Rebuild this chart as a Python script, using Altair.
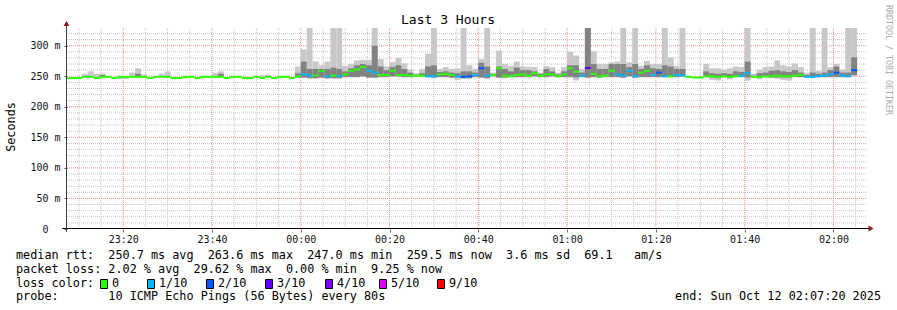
import altair as alt
import pandas as pd

# ---------------- data ----------------
TITLE = "Last 3 Hours"
Y_TITLE = "Seconds"
WATERMARK = "RRDTOOL / TOBI OETIKER"

# x is minutes after 23:00 on Oct 11; one sample every 80 s (4/3 min)
START_MIN = 20 / 3          # 23:06:40, first (clipped) sample start
STEP_MIN = 4 / 3
X_DOMAIN = [22 / 3, 562 / 3]   # 23:07:20 .. 02:07:20
X_TICKS = [20, 40, 60, 80, 100, 120, 140, 160, 180]
X_TICK_LABELS = ["23:20", "23:40", "00:00", "00:20", "00:40", "01:00", "01:20", "01:40", "02:00"]
X_MINOR = [10, 15, 25, 30, 35, 45, 50, 55, 65, 70, 75, 85, 90, 95, 105, 110, 115,
           125, 130, 135, 145, 150, 155, 165, 170, 175, 185]
Y_DOMAIN = [0, 329]
Y_TICKS = [0, 50, 100, 150, 200, 250, 300]
Y_TICK_LABELS = ["0", "50 m", "100 m", "150 m", "200 m", "250 m", "300 m"]
Y_MINOR = [10, 20, 30, 40, 60, 70, 80, 90, 110, 120, 130, 140, 160, 170, 180, 190,
           210, 220, 230, 240, 260, 270, 280, 290, 310, 320]

# median rtt (ms)
MED = [247, 247, 247, 249, 249, 247, 249, 249, 247, 249,
       249, 249, 249, 249, 247, 249, 249, 249, 247, 247,
       249, 249, 247, 249, 249, 249, 249, 247, 249, 249,
       247, 247, 249, 247, 249, 247, 249, 249, 247, 250,
       253, 251, 251.5, 258.5, 250, 251, 250, 253, 259, 261,
       265, 259, 256, 252, 252, 259, 252, 252, 251, 251,
       251, 250, 250, 253, 254, 252, 250, 249, 250, 252,
       263, 251, 252, 263, 251, 250, 252, 253, 251, 255,
       251, 253, 253, 250, 253, 263, 257.5, 251, 263.5, 254,
       250, 251, 259, 253, 251, 259, 250, 256, 259, 252,
       256, 250, 250, 252, 251, 249, 248, 248, 250, 250,
       249, 250, 249, 250, 251, 255, 249, 249, 250, 250,
       251, 250, 250, 251, 252, 249, 249, 250, 251, 253,
       256, 251, 250, 260]
# smoke: lowest / highest ping (ms), top of the scale where it runs off
LO = [247, 247, 247, 249, 249, 247, 249, 249, 247, 245.5,
      245.5, 249, 249, 249, 247, 249, 249, 249, 247, 247,
      249, 249, 247, 249, 249, 249, 249, 247, 249, 249,
      247, 247, 249, 247, 249, 247, 249, 249, 247, 247,
      247, 246, 246, 247, 246, 246, 246, 248, 248, 248,
      249, 247, 247, 248, 248, 249, 249, 248, 248, 249,
      249, 248, 247, 248, 248, 247, 244, 246, 246, 248,
      247, 246, 249, 247, 247, 248, 248, 248, 248, 249,
      248, 248, 249, 248, 248, 248, 243, 248, 247, 248,
      247, 248, 248, 248, 247, 249, 247, 248, 248, 248,
      248, 248, 248, 248, 249, 249, 248, 248, 248, 244,
      243, 248, 245, 248, 248, 243, 248, 245, 248, 247,
      246, 244, 243, 248, 248, 248, 248, 248, 248, 248,
      248, 248, 248, 250]
HI = [247, 247, 247, 254, 258, 254, 254.5, 249, 247, 249,
      249, 256, 263, 253, 247, 249, 254.5, 258, 247, 247,
      249, 249, 247, 249, 249, 256, 258, 247, 249, 249,
      247, 247, 249, 252, 252, 247, 249, 249, 247, 266,
      294, 330, 274.5, 268, 274, 330, 330, 267, 270, 276,
      277, 277, 330, 278, 266, 273, 280, 271, 261, 255,
      262, 287, 330, 262, 265, 262, 263, 330, 268, 262,
      278, 330, 256, 292, 270, 267, 274, 266, 265, 265,
      256, 267, 265, 256, 265, 290, 284, 262, 330, 291,
      270, 270, 273, 274, 330, 273, 330, 267, 275, 270,
      270, 330, 281, 267, 330, 249, 248, 250, 270, 263,
      263, 261, 263, 266, 265, 330, 254, 261, 265, 266,
      276, 268, 266, 271, 265, 256, 330, 259, 330, 265,
      270, 261, 330, 330]
# darker inner smoke band
MLO = [247, 247, 247, 249, 249, 247, 249, 249, 247, 249,
       249, 249, 249, 249, 247, 249, 249, 249, 247, 247,
       249, 249, 247, 249, 249, 249, 249, 247, 249, 249,
       247, 247, 249, 247, 249, 247, 249, 249, 247, 248,
       248, 247, 247, 248, 247, 247, 247, 249, 249, 249,
       250, 248, 248, 249, 249, 250, 250, 249, 249, 250,
       250, 249, 248, 249, 249, 248, 248, 247, 247, 249,
       248, 247, 250, 248, 248, 249, 249, 249, 249, 250,
       249, 249, 250, 249, 249, 249, 248, 249, 248, 249,
       248, 249, 249, 249, 248, 250, 248, 249, 249, 249,
       249, 249, 249, 249, 250, 249, 248, 248, 249, 248,
       247, 249, 248, 249, 249, 248, 249, 248, 249, 248,
       248, 248, 248, 249, 249, 249, 249, 249, 249, 249,
       249, 249, 249, 252]
MHI = [247, 247, 247, 249, 249, 247, 252, 249, 247, 249,
       249, 249, 254, 249, 247, 249, 249, 249, 247, 247,
       249, 249, 247, 249, 249, 249, 254, 247, 249, 249,
       247, 247, 249, 247, 249, 247, 249, 249, 247, 255,
       274, 262, 262, 262, 262, 264, 262, 258, 263, 268,
       270, 268, 300, 266, 260, 265, 268, 262, 256, 252,
       255, 266, 268, 257, 258, 256, 255, 258, 258, 256,
       272, 266, 254, 266, 262, 258, 264, 260, 260, 258,
       254, 262, 258, 253, 258, 268, 268, 256, 330, 270,
       262, 262, 270, 270, 270, 265, 270, 262, 268, 263,
       262, 268, 266, 262, 262, 249, 248, 249, 258, 255,
       254, 255, 254, 258, 257, 274, 251, 255, 256, 259,
       260, 258, 257, 260, 256, 252, 256, 254, 256, 260,
       266, 256, 256, 281]
# lost pings out of 10 per sample
LOSS = [0, 0, 0, 0, 0, 0, 0, 0, 0, 0,
        0, 0, 0, 0, 0, 0, 0, 0, 0, 0,
        0, 0, 0, 0, 0, 0, 0, 0, 0, 0,
        0, 0, 0, 0, 0, 0, 0, 0, 0, 0,
        1, 1, 0, 0, 1, 0, 1, 0, 0, 0,
        0, 1, 1, 0, 0, 0, 0, 0, 0, 0,
        0, 1, 1, 0, 0, 0, 1, 2, 2, 1,
        2, 1, 0, 0, 0, 0, 0, 0, 0, 0,
        0, 0, 0, 0, 0, 0, 0, 1, 3, 0,
        0, 0, 0, 1, 1, 1, 1, 0, 0, 1,
        2, 1, 0, 1, 1, 0, 0, 0, 0, 0,
        0, 0, 0, 0, 1, 1, 0, 0, 0, 0,
        0, 0, 0, 0, 0, 1, 1, 1, 1, 1,
        2, 1, 1, 2]

LOSS_LEVELS = [0, 1, 2, 3, 4, 5, 9]
LOSS_LABELS = ["0", "1/10", "2/10", "3/10", "4/10", "5/10", "9/10"]
LOSS_COLORS = ["#26ff00", "#00b8ff", "#0059ff", "#5e00ff", "#7e00ff", "#dd00ff", "#ff0000"]

LEGEND_RTT = "median rtt:  250.7 ms avg  263.6 ms max  247.0 ms min  259.5 ms now  3.6 ms sd  69.1   am/s"
LEGEND_LOSS = "packet loss: 2.02 % avg  29.62 % max  0.00 % min  9.25 % now"
LEGEND_COLOR = "loss color:"
LEGEND_PROBE = "probe:       10 ICMP Echo Pings (56 Bytes) every 80s"
LEGEND_END = "end: Sun Oct 12 02:07:20 2025"

n = len(MED)
assert all(len(a) == n for a in (LO, HI, MLO, MHI, LOSS))

label_of = dict(zip(LOSS_LEVELS, LOSS_LABELS))
df = pd.DataFrame({
    "t0": [START_MIN + STEP_MIN * k for k in range(n)],
    "t1": [START_MIN + STEP_MIN * (k + 1) for k in range(n)],
    "med": MED, "lo": LO, "hi": HI, "mlo": MLO, "mhi": MHI,
    "loss": [label_of[v] for v in LOSS],
})

# ---------------- layout / style ----------------
MONO = "DejaVu Sans Mono"
LEFT, TOP, W, H = 67, 28, 799, 201
XS = alt.Scale(domain=X_DOMAIN, nice=False, zero=False)
YS = alt.Scale(domain=Y_DOMAIN, nice=False, zero=False)


def nb(s):
    return s.replace(" ", "\u00a0")


def label_expr(vals, labels):
    expr = "''"
    for v, l in reversed(list(zip(vals, labels))):
        expr = f"datum.value == {v} ? '{nb(l)}' : ({expr})"
    return expr


ONE = alt.Data(values=[{"a": 0}])


def txt(s, x, y, size=11.8, color="#000000", angle=0, align="left", baseline="alphabetic"):
    return alt.Chart(ONE).mark_text(
        text=nb(s), font=MONO, fontSize=size, color=color, angle=angle,
        align=align, baseline=baseline
    ).encode(x=alt.value(x - LEFT), y=alt.value(y - TOP))


X_AXIS = alt.Axis(values=X_TICKS, labelExpr=label_expr(X_TICKS, X_TICK_LABELS),
                  title=None, grid=False, domain=False, ticks=True, tickSize=3,
                  tickColor="#c05050", labelFont=MONO, labelFontSize=10,
                  labelColor="#111111", labelPadding=2)
# the unit-less "0" label keeps the blank unit column of the other labels
Y_AXIS = alt.Axis(values=Y_TICKS, labelExpr=label_expr(Y_TICKS, Y_TICK_LABELS),
                  title=None, grid=False, domain=False, ticks=True, tickSize=3,
                  tickColor="#555555", labelFont=MONO, labelFontSize=10,
                  labelColor="#111111",
                  labelPadding={"condition": {"test": "datum.value == 0", "value": 16},
                                "value": 4})


def X(field):
    return alt.X(field, type="quantitative", scale=XS, axis=X_AXIS)


def Y(field):
    return alt.Y(field, type="quantitative", scale=YS, axis=Y_AXIS)


grid_hmin = alt.Chart(pd.DataFrame({"v": Y_MINOR})).mark_rule(
    color="#c4c4c4", strokeWidth=1, strokeDash=[1, 1]).encode(y=Y("v"))
grid_vmin = alt.Chart(pd.DataFrame({"v": X_MINOR})).mark_rule(
    color="#c4c4c4", strokeWidth=1, strokeDash=[1, 1]).encode(x=X("v"))
grid_hmaj = alt.Chart(pd.DataFrame({"v": Y_TICKS[1:]})).mark_rule(
    color="#f08a8a", strokeWidth=1, strokeDash=[1, 1]).encode(y=Y("v"))
grid_vmaj = alt.Chart(pd.DataFrame({"v": X_TICKS})).mark_rule(
    color="#f08a8a", strokeWidth=1, strokeDash=[1, 1]).encode(x=X("v"))

base = alt.Chart(df)
smoke_light = base.mark_rect(color="#c8c8c8", clip=True).encode(
    x=X("t0"), x2="t1", y=Y("lo"), y2="hi")
smoke_mid = base.mark_rect(color="#828282", clip=True).encode(
    x=X("t0"), x2="t1", y=Y("mlo"), y2="mhi")
median = base.mark_rule(strokeWidth=2, clip=True).encode(
    x=X("t0"), x2="t1", y=Y("med"),
    color=alt.Color("loss:N", scale=alt.Scale(domain=LOSS_LABELS, range=LOSS_COLORS),
                    legend=None))

# axis lines and arrow heads
x_line = alt.Chart(ONE).mark_rule(color="#000000", strokeWidth=1).encode(
    x=alt.value(-5), x2=alt.value(802), y=alt.value(H - 0.5))
y_line = alt.Chart(ONE).mark_rule(color="#404040", strokeWidth=1).encode(
    x=alt.value(-0.5), y=alt.value(-4), y2=alt.value(H + 3))
x_arrow = alt.Chart(ONE).mark_point(shape="triangle-right", filled=True, size=34,
                                    color="#8b1a1a", opacity=1).encode(
    x=alt.value(804), y=alt.value(H - 0.5))
y_arrow = alt.Chart(ONE).mark_point(shape="triangle-up", filled=True, size=34,
                                    color="#8b1a1a", opacity=1).encode(
    x=alt.value(-0.5), y=alt.value(-4.5))

texts = [
    txt(TITLE, 448, 24.3, size=13, align="center"),
    txt(Y_TITLE, 11, 127, angle=270, align="center", baseline="middle"),
    txt(WATERMARK, 888, 5, size=8.3, color="#aaaaaa", angle=90, align="left",
        baseline="middle"),
    txt(LEGEND_RTT, 16, 259),
    txt(LEGEND_LOSS, 16, 273),
    txt(LEGEND_COLOR, 16, 286.5),
    txt(LEGEND_PROBE, 16, 300),
    txt(LEGEND_END, 881, 300, align="right"),
]

BOX_X = [100, 147, 206, 265, 325, 379, 437]
boxes = []
for bx, lab, col in zip(BOX_X, LOSS_LABELS, LOSS_COLORS):
    boxes.append(alt.Chart(ONE).mark_rect(fill=col, stroke="#000000", strokeWidth=1).encode(
        x=alt.value(bx - LEFT + 0.5), x2=alt.value(bx - LEFT + 7.5),
        y=alt.value(279.5 - TOP), y2=alt.value(288.5 - TOP)))
    texts.append(txt(lab, bx + 12, 286.5))

chart = alt.layer(
    grid_hmin, grid_vmin, grid_hmaj, grid_vmaj,
    smoke_light, smoke_mid, median,
    x_line, y_line, x_arrow, y_arrow,
    *texts, *boxes,
).properties(
    width=W, height=H,
    autosize=alt.AutoSizeParams(type="none"),
    padding={"left": LEFT, "top": TOP, "right": 897 - LEFT - W, "bottom": 310 - TOP - H},
    background="#ffffff",
).configure_view(strokeWidth=0)

chart.save("out.html", embed_options={"renderer": "svg", "actions": False})
